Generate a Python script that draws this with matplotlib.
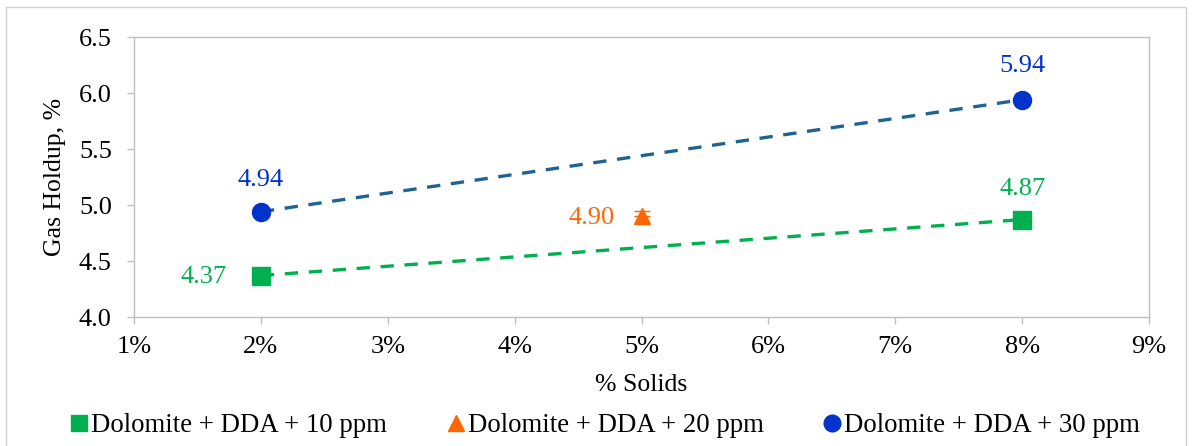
import matplotlib.pyplot as plt
import numpy as np
from matplotlib.lines import Line2D
from matplotlib.patches import Rectangle

plt.rcParams['font.family'] = ['Liberation Serif', 'DejaVu Serif']

solids = [0.02, 0.08]
holdup_10 = [4.37, 4.87]
solids_20 = [0.05]
holdup_20 = [4.90]
err_20 = [0.05]
holdup_30 = [4.94, 5.94]
labels = ['Dolomite + DDA + 10 ppm', 'Dolomite + DDA + 20 ppm', 'Dolomite + DDA + 30 ppm']

green = '#00B050'
orange = '#FF6600'
blue = '#0033CC'
teal = '#1F6391'
axis_grey = '#BFBFBF'

fig = plt.figure(figsize=(11.92, 4.46), dpi=100)
ax = fig.add_axes([134 / 1192, 1 - 317 / 446, (1149 - 134) / 1192, (317 - 37) / 446])

# outer chart border
fig.patches.append(Rectangle((6 / 1192, -2 / 446), 1180 / 1192, 441 / 446,
                             transform=fig.transFigure, fill=False,
                             edgecolor='#D0D0D0', linewidth=1))

# linear trendlines through each two-point series
for ys, col in [(holdup_30, teal), (holdup_10, green)]:
    k, b = np.polyfit(solids, ys, 1)
    xs = np.array(solids)
    ax.plot(xs, k * xs + b, linestyle=(0, (4, 3.2)), color=col, linewidth=2.4, zorder=2)

ax.plot(solids, holdup_10, 's', color=green, markersize=13, zorder=3)
ax.errorbar(solids_20, holdup_20, yerr=[[0], err_20], fmt='^', color=orange,
            markersize=12, capsize=6, elinewidth=1.5, zorder=3)
ax.plot(solids, holdup_30, 'o', color=blue, markersize=13, zorder=3)

fs = 19
ax.annotate(f'{holdup_10[0]:.2f}', (solids[0], holdup_10[0]), xytext=(-25, -1),
            textcoords='offset points', ha='right', va='center', color=green, fontsize=fs)
ax.annotate(f'{holdup_10[1]:.2f}', (solids[1], holdup_10[1]), xytext=(0, 14),
            textcoords='offset points', ha='center', va='bottom', color=green, fontsize=fs)
ax.annotate(f'{holdup_20[0]:.2f}', (solids_20[0], holdup_20[0]), xytext=(-19, -1),
            textcoords='offset points', ha='right', va='center', color=orange, fontsize=fs)
ax.annotate(f'{holdup_30[0]:.2f}', (solids[0], holdup_30[0]), xytext=(0, 15),
            textcoords='offset points', ha='center', va='bottom', color=blue, fontsize=fs)
ax.annotate(f'{holdup_30[1]:.2f}', (solids[1], holdup_30[1]), xytext=(0, 16),
            textcoords='offset points', ha='center', va='bottom', color=blue, fontsize=fs)

ax.set_xlim(0.01, 0.09)
ax.set_ylim(4.0, 6.5)
ax.set_xticks(np.arange(0.01, 0.091, 0.01))
ax.set_xticklabels([f'{i}%' for i in range(1, 10)])
ax.set_yticks(np.arange(4.0, 6.51, 0.5))
ax.set_yticklabels([f'{v:.1f}' for v in np.arange(4.0, 6.51, 0.5)])
ax.tick_params(labelsize=fs, colors='black', length=5, width=1)
ax.tick_params(axis='x', color=axis_grey, pad=9)
ax.tick_params(axis='y', color=axis_grey, pad=11)
for s in ax.spines.values():
    s.set_color(axis_grey)
    s.set_linewidth(1)

ax.set_xlabel('% Solids', fontsize=18.5, labelpad=11)
ax.set_ylabel('Gas Holdup, %', fontsize=18.5, labelpad=9)

handles = [
    Line2D([], [], marker='s', linestyle='none', color=green, markersize=12),
    Line2D([], [], marker='^', linestyle='none', color=orange, markersize=11),
    Line2D([], [], marker='o', linestyle='none', color=blue, markersize=12),
]
fig.legend(handles, labels, loc='center', bbox_to_anchor=(605 / 1192, 1 - 426 / 446),
           ncol=3, frameon=False, fontsize=19.3, handletextpad=0.1, columnspacing=2.2,
           handlelength=0.7, numpoints=1, borderpad=0)

fig.savefig('out.png', dpi=100)
